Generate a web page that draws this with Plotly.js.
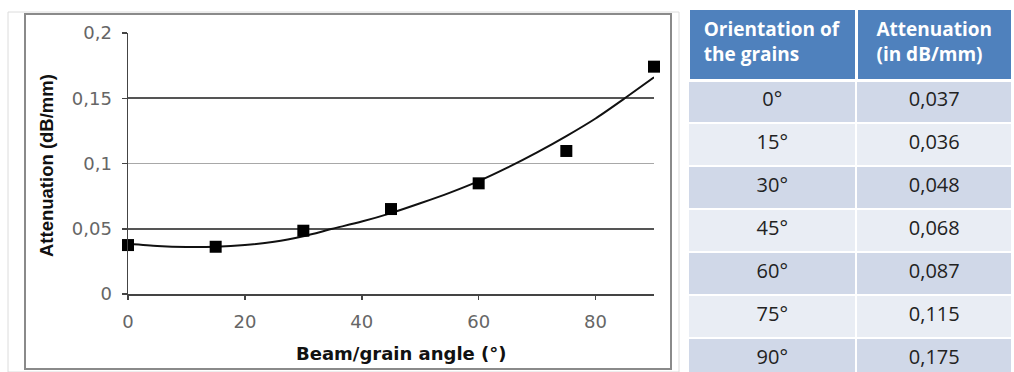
<!DOCTYPE html>
<html>
<head>
<meta charset="utf-8">
<script src="https://cdn.plot.ly/plotly-3.0.1.min.js"></script>
<style>
  html, body { margin: 0; padding: 0; background: #ffffff; }
  #chart { width: 1014px; height: 372px; }
  .scrollbar-kit { display: none !important; }
  .table .cell-text { transform: translateY(3px); }
</style>
</head>
<body>
<div id="chart"></div>
<script>
const angles = [0, 15, 30, 45, 60, 75, 90];
const attenuation = [0.0375, 0.0362, 0.0485, 0.0651, 0.0848, 0.1096, 0.1742];

// Trend curve
const trendAngles = [0, 5, 10, 15, 20, 25, 30, 35, 40, 45, 50, 55, 60, 65, 70, 75, 80, 85, 90];
const trendValues = [0.0385, 0.0368, 0.0360, 0.0362, 0.0375, 0.0400, 0.0443, 0.0500, 0.0555, 0.0620,
                     0.0695, 0.0775, 0.0865, 0.0970, 0.1085, 0.1210, 0.1345, 0.1500, 0.1660];

// Axis ticks
const xTickVals = [0, 20, 40, 60, 80];
const yTickVals = [0, 0.05, 0.1, 0.15, 0.2];
const yTickText = ['0', '0,05', '0,1', '0,15', '0,2'];
const darkGridVals = [0.05, 0.15];
const lightGridVals = [0.1];

// Table
const tableHeader = ['Orientation of<br>the grains', 'Attenuation<br>(in dB/mm)'];
const tableAngles = ['0°', '15°', '30°', '45°', '60°', '75°', '90°'];
const tableValues = ['0,037', '0,036', '0,048', '0,068', '0,087', '0,115', '0,175'];

const W = 1014, H = 372;
const px = v => v / W;
const py = v => (H - v) / H;

const rowFills = tableAngles.map((_, i) => i % 2 === 0 ? '#D0D8E8' : '#E9EDF4');

const traces = [
  {
    type: 'scatter', mode: 'lines', x: trendAngles, y: trendValues,
    line: { color: '#111111', width: 2, shape: 'spline', smoothing: 0.6 },
    hoverinfo: 'skip', showlegend: false
  },
  {
    type: 'scatter', mode: 'markers', x: angles, y: attenuation,
    marker: { symbol: 'square', size: 12, color: '#000000' },
    cliponaxis: false, showlegend: false
  },
  {
    type: 'table',
    domain: { x: [px(688), px(1013)], y: [0, py(8)] },
    columnwidth: [169, 156],
    header: {
      values: tableHeader,
      fill: { color: '#4F81BD' },
      line: { color: '#ffffff', width: 3 },
      align: 'center',
      height: 72,
      font: { family: 'Open Sans', size: 19, color: '#ffffff', weight: 'bold' }
    },
    cells: {
      values: [tableAngles, tableValues],
      fill: { color: [rowFills, rowFills] },
      line: { color: '#ffffff', width: 2 },
      align: 'center',
      height: 43,
      font: { family: 'Open Sans', size: 20, color: '#222222' }
    }
  }
];

const tickFont = { family: '"DejaVu Sans", sans-serif', size: 18, color: '#666666' };

const layout = {
  width: W, height: H,
  margin: { l: 0, r: 0, t: 0, b: 0 },
  paper_bgcolor: '#ffffff', plot_bgcolor: '#ffffff',
  showlegend: false,
  xaxis: {
    domain: [px(128), px(654)], range: [0, 90],
    tickvals: xTickVals, ticks: 'outside', ticklen: 4, tickwidth: 1.5, tickcolor: '#444',
    showline: true, linecolor: '#444', linewidth: 1.5,
    showgrid: false, zeroline: false,
    ticklabelstandoff: 7,
    tickfont: tickFont
  },
  yaxis: {
    domain: [py(294), py(33)], range: [0, 0.2],
    tickvals: yTickVals, ticktext: yTickText, ticks: 'outside', ticklen: 5, tickwidth: 1.5, tickcolor: '#444',
    showline: true, linecolor: '#444', linewidth: 1.5,
    showgrid: false, zeroline: false,
    ticklabelstandoff: 6,
    tickfont: tickFont
  },
  yaxis2: {
    overlaying: 'y', range: [0, 0.2], tickvals: darkGridVals,
    showticklabels: false, ticks: '', showline: false, zeroline: false,
    showgrid: true, gridcolor: '#555555', gridwidth: 1.6
  },
  yaxis3: {
    overlaying: 'y', range: [0, 0.2], tickvals: lightGridVals,
    showticklabels: false, ticks: '', showline: false, zeroline: false,
    showgrid: true, gridcolor: '#a8a8a8', gridwidth: 1.2
  },
  shapes: [
    { type: 'rect', xref: 'paper', yref: 'paper', x0: px(8), x1: px(679), y0: py(372), y1: py(12),
      line: { color: '#dcdcdc', width: 1 }, layer: 'below' },
    { type: 'rect', xref: 'paper', yref: 'paper', x0: px(25), x1: px(671), y0: py(369), y1: py(14),
      line: { color: '#8a8a8a', width: 2 }, layer: 'below' }
  ],
  annotations: [
    { xref: 'paper', yref: 'paper', x: px(401), y: py(353), xanchor: 'center', yanchor: 'middle',
      text: 'Beam/grain angle (°)', showarrow: false,
      font: { family: '"DejaVu Sans", sans-serif', size: 18, color: '#111111', weight: 'bold' } },
    { xref: 'paper', yref: 'paper', x: px(46), y: py(166), xanchor: 'center', yanchor: 'middle',
      text: 'Attenuation (dB/mm)', textangle: -90, showarrow: false,
      font: { family: '"Liberation Sans", Arial, sans-serif', size: 18.5, color: '#111111', weight: 'bold' } }
  ]
};

// make overlay axes render by referencing them with invisible traces
traces.push({ type: 'scatter', x: [null], y: [null], yaxis: 'y2', showlegend: false, hoverinfo: 'skip' });
traces.push({ type: 'scatter', x: [null], y: [null], yaxis: 'y3', showlegend: false, hoverinfo: 'skip' });

Plotly.newPlot('chart', traces, layout, { displayModeBar: false, staticPlot: true });
</script>
</body>
</html>
